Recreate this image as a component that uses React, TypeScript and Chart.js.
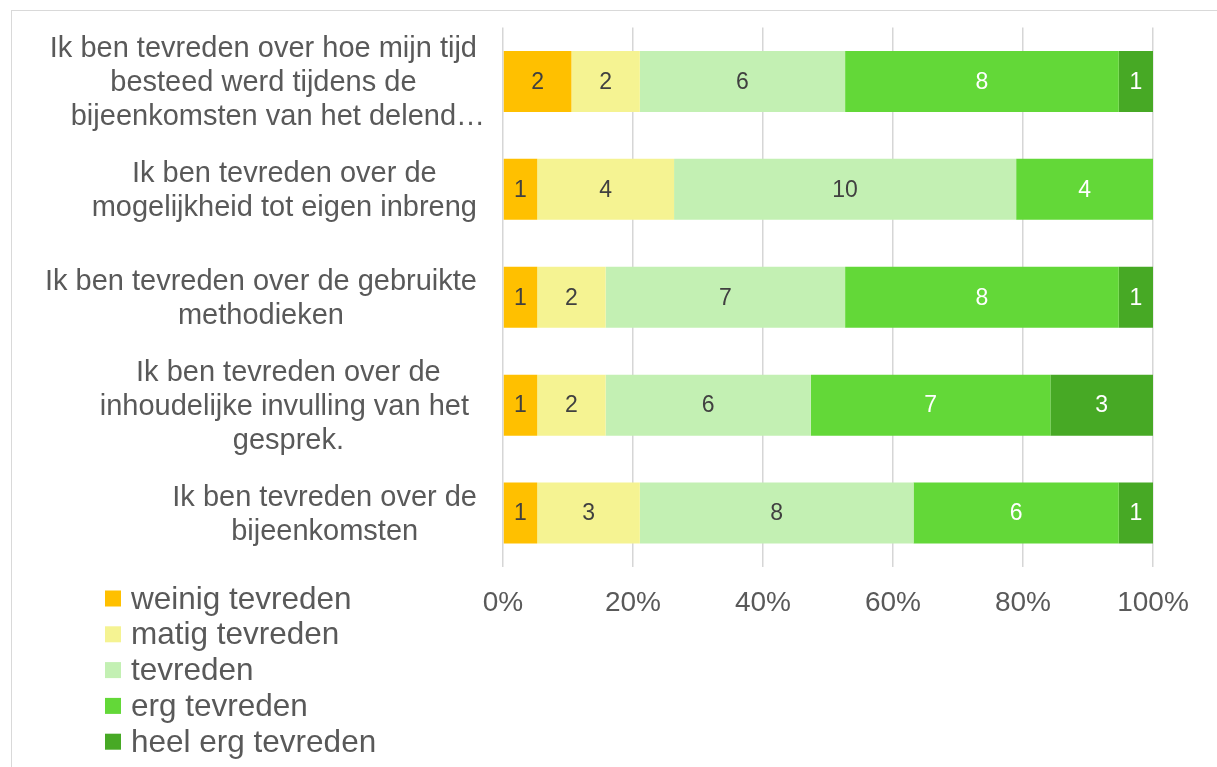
import { useEffect, useRef } from "react";
import { Chart, registerables } from "chart.js";

Chart.register(...registerables);

// ---------- data ----------
const categoryLines: string[][] = [
  ["Ik ben tevreden over hoe mijn tijd", "besteed werd tijdens de", "bijeenkomsten van het delend…"],
  ["Ik ben tevreden over de", "mogelijkheid tot eigen inbreng"],
  ["Ik ben tevreden over de gebruikte", "methodieken"],
  ["Ik ben tevreden over de", "inhoudelijke invulling van het ", "gesprek."],
  ["Ik ben tevreden over de", "bijeenkomsten"],
];

const seriesNames = ["weinig tevreden", "matig tevreden", "tevreden", "erg tevreden", "heel erg tevreden"];
const seriesColors = ["#FFC000", "#F5F392", "#C3F0B3", "#63D838", "#47A925"];
const labelColors = ["#404040", "#404040", "#404040", "#FFFFFF", "#FFFFFF"];

const weinigTevreden = [2, 1, 1, 1, 1];
const matigTevreden = [2, 4, 2, 2, 3];
const tevreden = [6, 10, 7, 6, 8];
const ergTevreden = [8, 4, 8, 7, 6];
const heelErgTevreden = [1, 0, 1, 3, 1];

const xTickStep = 20;
const xMin = 0;
const xMax = 100;

const seriesCounts = [weinigTevreden, matigTevreden, tevreden, ergTevreden, heelErgTevreden];

const FONT = '"Liberation Sans", Arial, sans-serif';
const TEXT = "#595959";

export default function App() {
  const ref = useRef<HTMLCanvasElement | null>(null);

  useEffect(() => {
    if (!ref.current) return;
    const totals = categoryLines.map((_, i) => seriesCounts.reduce((s, arr) => s + arr[i], 0));

    const datasets = seriesNames.map((name, si) => ({
      label: name,
      data: seriesCounts[si].map((c, i) => (c / totals[i]) * 100),
      backgroundColor: seriesColors[si],
      borderWidth: 0,
      categoryPercentage: 1,
      barPercentage: 0.565,
    }));

    const overlay = {
      id: "overlay",
      afterDatasetsDraw(chart: any) {
        const ctx = chart.ctx;
        ctx.save();
        ctx.font = `23px ${FONT}`;
        ctx.textAlign = "center";
        ctx.textBaseline = "middle";
        chart.data.datasets.forEach((ds: any, si: number) => {
          const meta = chart.getDatasetMeta(si);
          meta.data.forEach((el: any, i: number) => {
            const c = seriesCounts[si][i];
            if (!c) return;
            ctx.fillStyle = labelColors[si];
            ctx.fillText(String(c), (el.x + el.base) / 2, el.y + 1);
          });
        });
        ctx.restore();
      },
      afterDraw(chart: any) {
        const ctx = chart.ctx;
        const area = chart.chartArea;
        const yScale = chart.scales.y;
        // category labels
        ctx.save();
        ctx.font = `29px ${FONT}`;
        ctx.fillStyle = TEXT;
        ctx.textAlign = "left";
        ctx.textBaseline = "middle";
        const right = area.left - 26;
        const lh = 34;
        categoryLines.forEach((lines, i) => {
          const cy = yScale.getPixelForTick(i);
          const widths = lines.map((l) => ctx.measureText(l.replace(/…$/, "")).width);
          const block = Math.max(...widths);
          const cx = right - block / 2;
          lines.forEach((l, li) => {
            const y = cy + (li - (lines.length - 1) / 2) * lh + 2;
            ctx.fillText(l, cx - widths[li] / 2, y);
          });
        });
        ctx.restore();

        // legend
        ctx.save();
        ctx.font = `31.5px ${FONT}`;
        ctx.textAlign = "left";
        ctx.textBaseline = "middle";
        const lx = 105;
        const ly0 = area.bottom + 31.5;
        const step = 35.8;
        chart.data.datasets.forEach((ds: any, si: number) => {
          const y = ly0 + si * step;
          ctx.fillStyle = ds.backgroundColor;
          ctx.fillRect(lx, y - 8, 16, 16);
          ctx.fillStyle = TEXT;
          ctx.fillText(ds.label, lx + 26, y + 1.5);
        });
        ctx.restore();
      },
    };

    const chart = new Chart(ref.current, {
      type: "bar",
      data: {
        labels: categoryLines.map((l) => l.join(" ")),
        datasets,
      },
      options: {
        indexAxis: "y",
        animation: false,
        responsive: false,
        devicePixelRatio: 1,
        layout: { padding: { left: 503, right: 64, top: 27.5, bottom: 128.4 } },
        plugins: { legend: { display: false }, tooltip: { enabled: false } },
        scales: {
          x: {
            stacked: true,
            min: xMin,
            max: xMax,
            border: { display: false },
            grid: { color: "#D6D6D6", lineWidth: 1.5, drawTicks: false },
            ticks: {
              stepSize: xTickStep,
              padding: 19,
              color: TEXT,
              font: { family: FONT, size: 28 },
              callback: (v: any) => `${v}%`,
            },
          },
          y: {
            stacked: true,
            display: false,
          },
        },
      },
      plugins: [overlay],
    });
    return () => chart.destroy();
  }, []);

  return (
    <div style={{ position: "fixed", left: 0, top: 0, width: 1217, height: 767, overflow: "hidden", background: "#fff" }}>
      <div
        style={{
          position: "absolute",
          left: 11,
          top: 10,
          width: 1300,
          height: 900,
          border: "1px solid #D9D9D9",
        }}
      />
      <canvas ref={ref} width={1217} height={767} style={{ position: "absolute", left: 0, top: 0 }} />
    </div>
  );
}
